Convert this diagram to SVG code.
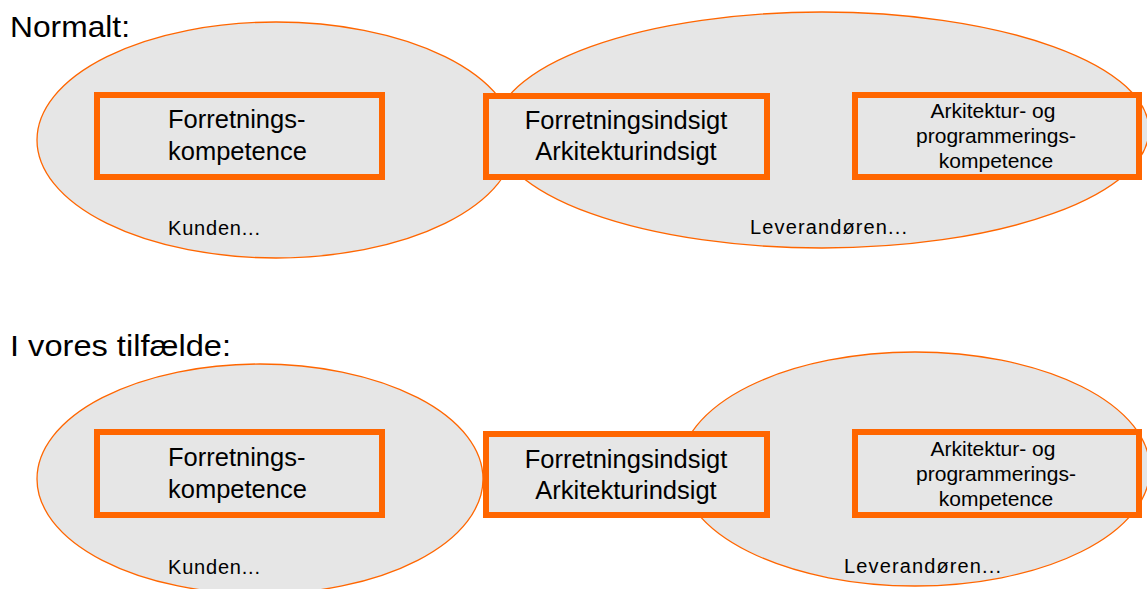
<svg xmlns="http://www.w3.org/2000/svg" width="1147" height="589" viewBox="0 0 1147 589">
  <style>
    .zone { fill: #e6e6e6; stroke: #ff6600; stroke-width: 1.3; }
    .box { fill: #e6e6e6; stroke: #ff6600; stroke-width: 6; }
    .heading { font-family: "Liberation Sans", Arial, sans-serif; font-size: 29px; fill: #000; }
    .lbl { font-family: "Liberation Sans", Arial, sans-serif; font-size: 25.5px; fill: #000; }
    .small { font-family: "Liberation Sans", Arial, sans-serif; font-size: 21px; fill: #000; }
    .note { font-family: "Liberation Sans", Arial, sans-serif; font-size: 20px; fill: #000; }
  </style>
  <rect width="1147" height="589" fill="#ffffff"/>

  <!-- Normal situation -->
  <text class="heading" x="10" y="37" textLength="120" lengthAdjust="spacingAndGlyphs">Normalt:</text>
  <g id="customer-normal">
    <ellipse class="zone" cx="276" cy="140" rx="239" ry="118"/>
    <text class="note" x="168" y="235" textLength="92">Kunden...</text>
  </g>
  <g id="supplier-normal">
    <ellipse class="zone" cx="822" cy="130" rx="327" ry="118"/>
    <text class="note" x="750" y="234" textLength="157">Leverandøren...</text>
  </g>
  <g id="business-competence-normal">
    <rect class="box" x="97" y="95" width="285" height="82"/>
    <text class="lbl" x="168" y="128">Forretnings-</text>
    <text class="lbl" x="168" y="160">kompetence</text>
  </g>
  <g id="insight-normal">
    <rect class="box" x="486" y="96" width="281" height="81"/>
    <text class="lbl" x="626" y="129" text-anchor="middle">Forretningsindsigt</text>
    <text class="lbl" x="626" y="160" text-anchor="middle">Arkitekturindsigt</text>
  </g>
  <g id="tech-competence-normal">
    <rect class="box" x="855" y="95" width="284" height="82"/>
    <text class="small" x="993" y="118" text-anchor="middle">Arkitektur- og</text>
    <text class="small" x="996" y="143" text-anchor="middle">programmerings-</text>
    <text class="small" x="996" y="168" text-anchor="middle">kompetence</text>
  </g>

  <!-- Our situation -->
  <text class="heading" x="10" y="356" textLength="221" lengthAdjust="spacingAndGlyphs">I vores tilfælde:</text>
  <g id="customer-ours">
    <ellipse class="zone" cx="260" cy="479" rx="223" ry="115"/>
    <text class="note" x="168" y="574" textLength="92">Kunden...</text>
  </g>
  <g id="supplier-ours">
    <ellipse class="zone" cx="915" cy="469" rx="235" ry="117"/>
    <text class="note" x="844" y="573" textLength="157">Leverandøren...</text>
  </g>
  <g id="business-competence-ours">
    <rect class="box" x="97" y="432" width="285" height="83"/>
    <text class="lbl" x="168" y="466">Forretnings-</text>
    <text class="lbl" x="168" y="498">kompetence</text>
  </g>
  <g id="insight-ours">
    <rect class="box" x="486" y="434" width="281" height="81"/>
    <text class="lbl" x="626" y="468" text-anchor="middle">Forretningsindsigt</text>
    <text class="lbl" x="626" y="499" text-anchor="middle">Arkitekturindsigt</text>
  </g>
  <g id="tech-competence-ours">
    <rect class="box" x="855" y="432" width="284" height="83"/>
    <text class="small" x="993" y="456" text-anchor="middle">Arkitektur- og</text>
    <text class="small" x="996" y="481" text-anchor="middle">programmerings-</text>
    <text class="small" x="996" y="506" text-anchor="middle">kompetence</text>
  </g>

  <g id="connectors"/>
</svg>
